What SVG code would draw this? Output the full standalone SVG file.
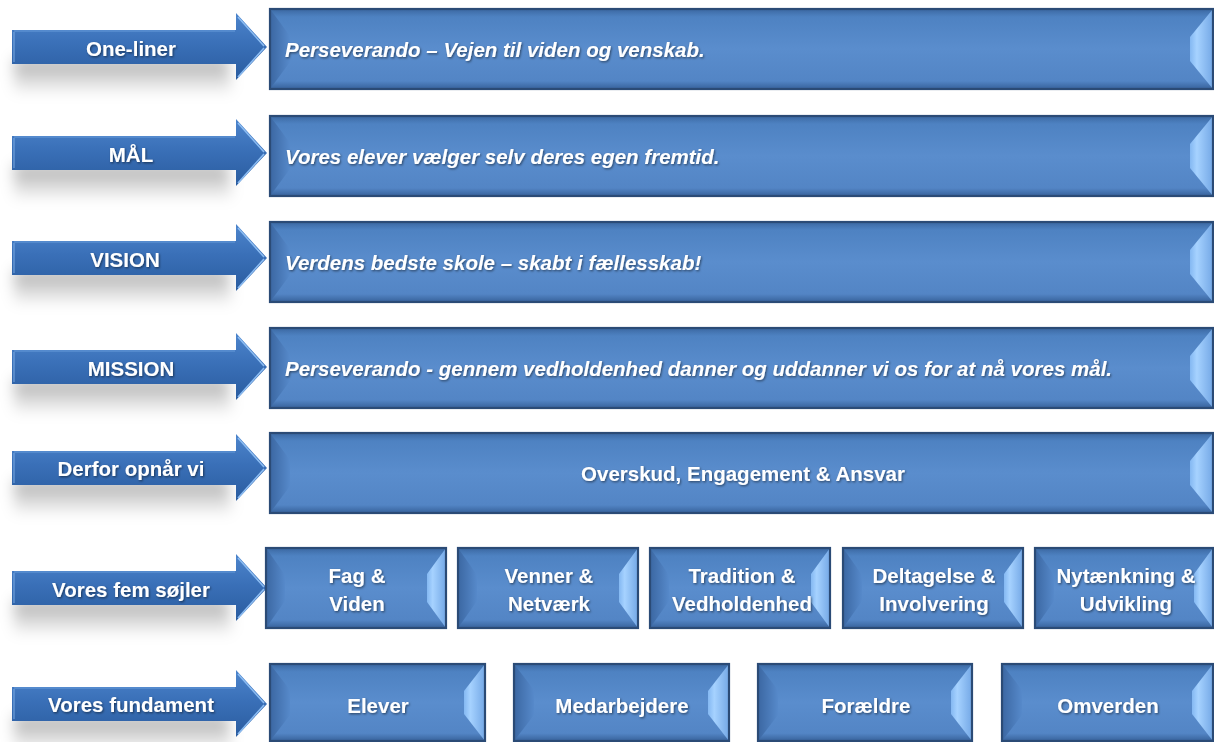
<svg xmlns="http://www.w3.org/2000/svg" xmlns:xlink="http://www.w3.org/1999/xlink" width="1214" height="742" viewBox="0 0 1214 742">
<defs>
<style>
.face{fill:url(#gFace);}
.bl{fill:url(#gLeft);}
.br{fill:url(#gRight);}
.bt{fill:url(#gTop);}
.edge{fill:none;stroke:#2B4B76;stroke-width:2.2;}
.t{font-family:"Liberation Sans",Arial,sans-serif;font-weight:bold;font-size:20.5px;fill:#FFFFFF;filter:url(#ts);}
.it{font-style:italic;}
.c{text-anchor:middle;}
.arrow{fill:url(#gArrow);}
.ahl{fill:none;stroke:#8CBCF2;stroke-width:1.6;}
.shadow{fill:url(#gShadow);filter:url(#blur);}
</style>
<linearGradient id="gFace" x1="0" y1="0" x2="0" y2="1">
<stop offset="0" stop-color="#3C6AA4"/>
<stop offset="0.1" stop-color="#4E82C2"/>
<stop offset="0.5" stop-color="#5A8DCD"/>
<stop offset="0.9" stop-color="#5385C5"/>
<stop offset="1" stop-color="#37629B"/>
</linearGradient>
<linearGradient id="gLeft" x1="0" y1="0" x2="1" y2="0">
<stop offset="0" stop-color="#3B67A2"/>
<stop offset="1" stop-color="#5689CA"/>
</linearGradient>
<linearGradient id="gRight" x1="0" y1="0" x2="1" y2="0">
<stop offset="0" stop-color="#84B8F2"/>
<stop offset="0.3" stop-color="#A6D2FF"/>
<stop offset="1" stop-color="#74A8E6"/>
</linearGradient>
<linearGradient id="gTop" x1="0" y1="0" x2="0" y2="1">
<stop offset="0" stop-color="#3A66A0"/>
<stop offset="1" stop-color="#4F83C3" stop-opacity="0"/>
</linearGradient>
<linearGradient id="gArrow" x1="0" y1="0" x2="0" y2="1">
<stop offset="0" stop-color="#4D85CC"/>
<stop offset="0.45" stop-color="#3A70B8"/>
<stop offset="1" stop-color="#2A5C9F"/>
</linearGradient>
<linearGradient id="gShadow" x1="0" y1="0" x2="0" y2="1">
<stop offset="0" stop-color="#000" stop-opacity="0.32"/>
<stop offset="1" stop-color="#000" stop-opacity="0.03"/>
</linearGradient>
<filter id="ts" x="-10%" y="-30%" width="120%" height="160%">
<feDropShadow dx="1" dy="1.2" stdDeviation="0.8" flood-color="#000" flood-opacity="0.5"/>
</filter>
<filter id="blur" x="-20%" y="-100%" width="140%" height="300%">
<feGaussianBlur stdDeviation="7"/>
</filter>
<path id="arrowShape" d="M12,-17 L236,-17 L236,-34 L267,0 L236,33 L236,17 L12,17 Z"/>
<path id="arrowShadow" d="M14,12 L228,12 L232,46 L14,46 Z"/>
<g id="arrowHl">
<polyline points="238,-30 264,-1" class="ahl"/>
<polyline points="238,30 264,1" class="ahl"/>
<polyline points="14,-15 14,15" class="ahl" opacity="0.5"/>
<polyline points="14,-16 235,-16" class="ahl" opacity="0.35"/>
</g>
</defs>

<g id="connectors"></g>

<!-- Arrow label nodes -->
<g id="arrow-oneliner">
<use xlink:href="#arrowShadow" class="shadow" y="47"/>
<use xlink:href="#arrowShape" class="arrow" y="47"/>
<use xlink:href="#arrowHl" y="47"/>
<text class="t c" x="131" y="56">One-liner</text>
</g>
<g id="arrow-maal">
<use xlink:href="#arrowShadow" class="shadow" y="153"/>
<use xlink:href="#arrowShape" class="arrow" y="153"/>
<use xlink:href="#arrowHl" y="153"/>
<text class="t c" x="131" y="162">MÅL</text>
</g>
<g id="arrow-vision">
<use xlink:href="#arrowShadow" class="shadow" y="258"/>
<use xlink:href="#arrowShape" class="arrow" y="258"/>
<use xlink:href="#arrowHl" y="258"/>
<text class="t c" x="125" y="267">VISION</text>
</g>
<g id="arrow-mission">
<use xlink:href="#arrowShadow" class="shadow" y="367"/>
<use xlink:href="#arrowShape" class="arrow" y="367"/>
<use xlink:href="#arrowHl" y="367"/>
<text class="t c" x="131" y="376">MISSION</text>
</g>
<g id="arrow-derfor">
<use xlink:href="#arrowShadow" class="shadow" y="468"/>
<use xlink:href="#arrowShape" class="arrow" y="468"/>
<use xlink:href="#arrowHl" y="468"/>
<text class="t c" x="131" y="476">Derfor opnår vi</text>
</g>
<g id="arrow-soejler">
<use xlink:href="#arrowShadow" class="shadow" y="588"/>
<use xlink:href="#arrowShape" class="arrow" y="588"/>
<use xlink:href="#arrowHl" y="588"/>
<text class="t c" x="131" y="597">Vores fem søjler</text>
</g>
<g id="arrow-fundament">
<use xlink:href="#arrowShadow" class="shadow" y="704"/>
<use xlink:href="#arrowShape" class="arrow" y="704"/>
<use xlink:href="#arrowHl" y="704"/>
<text class="t c" x="131" y="712">Vores fundament</text>
</g>

<!-- Wide boxes -->
<g id="box-oneliner">
<rect class="face" x="270" y="9" width="943" height="80"/>
<polygon class="bt" points="270,9 1213,9 1193,17 290,17"/>
<polygon class="bl" points="270,9 290,36 290,62 270,89"/>
<polygon class="br" points="1213,9 1190,37 1190,61 1213,89"/>
<rect class="edge" x="270" y="9" width="943" height="80"/>
<text class="t it" x="285" y="57">Perseverando – Vejen til viden og venskab.</text>
</g>
<g id="box-maal">
<rect class="face" x="270" y="116" width="943" height="80"/>
<polygon class="bt" points="270,116 1213,116 1193,124 290,124"/>
<polygon class="bl" points="270,116 290,143 290,169 270,196"/>
<polygon class="br" points="1213,116 1190,144 1190,168 1213,196"/>
<rect class="edge" x="270" y="116" width="943" height="80"/>
<text class="t it" x="285" y="164">Vores elever vælger selv deres egen fremtid.</text>
</g>
<g id="box-vision">
<rect class="face" x="270" y="222" width="943" height="80"/>
<polygon class="bt" points="270,222 1213,222 1193,230 290,230"/>
<polygon class="bl" points="270,222 290,249 290,275 270,302"/>
<polygon class="br" points="1213,222 1190,250 1190,274 1213,302"/>
<rect class="edge" x="270" y="222" width="943" height="80"/>
<text class="t it" x="285" y="270">Verdens bedste skole – skabt i fællesskab!</text>
</g>
<g id="box-mission">
<rect class="face" x="270" y="328" width="943" height="80"/>
<polygon class="bt" points="270,328 1213,328 1193,336 290,336"/>
<polygon class="bl" points="270,328 290,355 290,381 270,408"/>
<polygon class="br" points="1213,328 1190,356 1190,380 1213,408"/>
<rect class="edge" x="270" y="328" width="943" height="80"/>
<text class="t it" x="285" y="376">Perseverando - gennem vedholdenhed danner og uddanner vi os for at nå vores mål.</text>
</g>
<g id="box-derfor">
<rect class="face" x="270" y="433" width="943" height="80"/>
<polygon class="bt" points="270,433 1213,433 1193,441 290,441"/>
<polygon class="bl" points="270,433 290,460 290,486 270,513"/>
<polygon class="br" points="1213,433 1190,461 1190,485 1213,513"/>
<rect class="edge" x="270" y="433" width="943" height="80"/>
<text class="t c" x="743" y="481">Overskud, Engagement &amp; Ansvar</text>
</g>

<!-- Pillars -->
<g id="pillar-fag">
<rect class="face" x="266" y="548" width="180" height="80"/>
<polygon class="bt" points="266,548 446,548 428,556 284,556"/>
<polygon class="bl" points="266,548 285,575 285,601 266,628"/>
<polygon class="br" points="446,548 427,574 427,602 446,628"/>
<rect class="edge" x="266" y="548" width="180" height="80"/>
<text class="t c" x="357" y="583">Fag &amp;</text>
<text class="t c" x="357" y="611">Viden</text>
</g>
<g id="pillar-venner">
<rect class="face" x="458" y="548" width="180" height="80"/>
<polygon class="bt" points="458,548 638,548 620,556 476,556"/>
<polygon class="bl" points="458,548 477,575 477,601 458,628"/>
<polygon class="br" points="638,548 619,574 619,602 638,628"/>
<rect class="edge" x="458" y="548" width="180" height="80"/>
<text class="t c" x="549" y="583">Venner &amp;</text>
<text class="t c" x="549" y="611">Netværk</text>
</g>
<g id="pillar-tradition">
<rect class="face" x="650" y="548" width="180" height="80"/>
<polygon class="bt" points="650,548 830,548 812,556 668,556"/>
<polygon class="bl" points="650,548 669,575 669,601 650,628"/>
<polygon class="br" points="830,548 811,574 811,602 830,628"/>
<rect class="edge" x="650" y="548" width="180" height="80"/>
<text class="t c" x="742" y="583">Tradition &amp;</text>
<text class="t c" x="742" y="611">Vedholdenhed</text>
</g>
<g id="pillar-deltagelse">
<rect class="face" x="843" y="548" width="180" height="80"/>
<polygon class="bt" points="843,548 1023,548 1005,556 861,556"/>
<polygon class="bl" points="843,548 862,575 862,601 843,628"/>
<polygon class="br" points="1023,548 1004,574 1004,602 1023,628"/>
<rect class="edge" x="843" y="548" width="180" height="80"/>
<text class="t c" x="934" y="583">Deltagelse &amp;</text>
<text class="t c" x="934" y="611">Involvering</text>
</g>
<g id="pillar-nytaenkning">
<rect class="face" x="1035" y="548" width="178" height="80"/>
<polygon class="bt" points="1035,548 1213,548 1195,556 1053,556"/>
<polygon class="bl" points="1035,548 1054,575 1054,601 1035,628"/>
<polygon class="br" points="1213,548 1194,574 1194,602 1213,628"/>
<rect class="edge" x="1035" y="548" width="178" height="80"/>
<text class="t c" x="1126" y="583">Nytænkning &amp;</text>
<text class="t c" x="1126" y="611">Udvikling</text>
</g>

<!-- Foundation -->
<g id="found-elever">
<rect class="face" x="270" y="664" width="215" height="77"/>
<polygon class="bt" points="270,664 485,664 466,672 289,672"/>
<polygon class="bl" points="270,664 290,690 290,715 270,741"/>
<polygon class="br" points="485,664 464,691 464,714 485,741"/>
<rect class="edge" x="270" y="664" width="215" height="77"/>
<text class="t c" x="378" y="713">Elever</text>
</g>
<g id="found-medarbejdere">
<rect class="face" x="514" y="664" width="215" height="77"/>
<polygon class="bt" points="514,664 729,664 710,672 533,672"/>
<polygon class="bl" points="514,664 534,690 534,715 514,741"/>
<polygon class="br" points="729,664 708,691 708,714 729,741"/>
<rect class="edge" x="514" y="664" width="215" height="77"/>
<text class="t c" x="622" y="713">Medarbejdere</text>
</g>
<g id="found-foraeldre">
<rect class="face" x="758" y="664" width="214" height="77"/>
<polygon class="bt" points="758,664 972,664 953,672 777,672"/>
<polygon class="bl" points="758,664 778,690 778,715 758,741"/>
<polygon class="br" points="972,664 951,691 951,714 972,741"/>
<rect class="edge" x="758" y="664" width="214" height="77"/>
<text class="t c" x="866" y="713">Forældre</text>
</g>
<g id="found-omverden">
<rect class="face" x="1002" y="664" width="211" height="77"/>
<polygon class="bt" points="1002,664 1213,664 1194,672 1021,672"/>
<polygon class="bl" points="1002,664 1022,690 1022,715 1002,741"/>
<polygon class="br" points="1213,664 1192,691 1192,714 1213,741"/>
<rect class="edge" x="1002" y="664" width="211" height="77"/>
<text class="t c" x="1108" y="713">Omverden</text>
</g>
</svg>
